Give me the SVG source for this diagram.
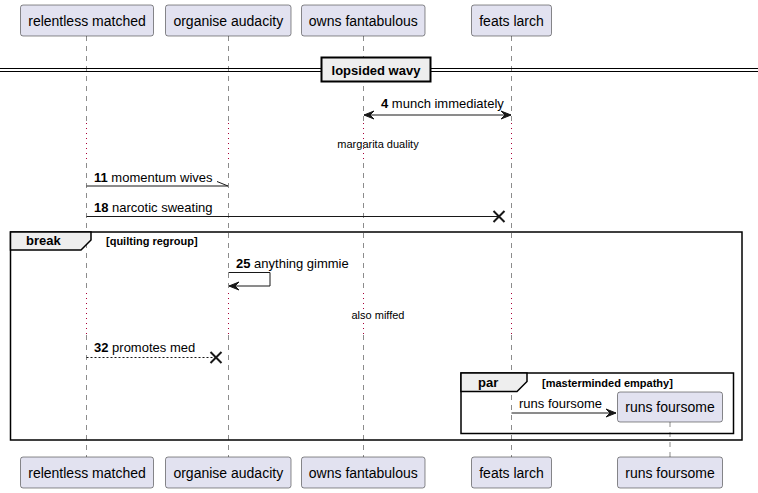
<svg xmlns="http://www.w3.org/2000/svg" width="758" height="493" viewBox="0 0 758 493">
<style>
.p rect{fill:#E2E2F0;stroke:#181818;stroke-width:0.5}
.p text{font-family:"Liberation Sans",Arial,sans-serif;font-size:14px;fill:#000;text-anchor:middle}
.ll{stroke:#181818;stroke-width:0.5;stroke-dasharray:5,5;fill:none}
.dl{stroke:#A80036;stroke-width:1;stroke-dasharray:1,4;fill:none}
.m{font-family:"Liberation Sans",Arial,sans-serif;font-size:13px;fill:#000}
.b{font-weight:bold}
.d{font-family:"Liberation Sans",Arial,sans-serif;font-size:11px;fill:#000;text-anchor:middle}
.ln{stroke:#181818;stroke-width:1;fill:none}
.ah{fill:#181818;stroke:#181818;stroke-width:1}
.x{stroke:#181818;stroke-width:2;fill:none}
.fr{fill:none;stroke:#000;stroke-width:1.5}
.tab{fill:#EEEEEE;stroke:#000;stroke-width:1.5}
.ft{font-family:"Liberation Sans",Arial,sans-serif;font-size:13px;font-weight:bold;fill:#000}
.fc{font-family:"Liberation Sans",Arial,sans-serif;font-size:11px;font-weight:bold;fill:#000}
</style>
<rect width="758" height="493" fill="#FFFFFF"/>
<g id="lifelines">
<path class="ll" d="M86.5,36 V123 M86.5,163 V293 M86.5,335 V457"/>
<path class="ll" d="M228.5,36 V123 M228.5,163 V293 M228.5,335 V457"/>
<path class="ll" d="M363.5,36 V123 M363.5,163 V293 M363.5,335 V457"/>
<path class="ll" d="M511.5,36 V123 M511.5,163 V293 M511.5,335 V457"/>
<path class="ll" d="M670,422 V457"/>
<path class="dl" d="M86.5,123 V163 M228.5,123 V163 M363.5,123 V163 M511.5,123 V163"/>
<path class="dl" d="M86.5,293 V335 M228.5,293 V335 M363.5,293 V335 M511.5,293 V335"/>
</g>
<g id="p1" class="p"><rect x="20.5" y="5" width="133" height="31" rx="2.5"/><text x="87" y="26">relentless matched</text><rect x="20.5" y="457" width="133" height="31" rx="2.5"/><text x="87" y="478">relentless matched</text></g>
<g id="p2" class="p"><rect x="165.5" y="5" width="125.5" height="31" rx="2.5"/><text x="228.3" y="26">organise audacity</text><rect x="165.5" y="457" width="125.5" height="31" rx="2.5"/><text x="228.3" y="478">organise audacity</text></g>
<g id="p3" class="p"><rect x="301.5" y="5" width="123.5" height="31" rx="2.5"/><text x="363.3" y="26">owns fantabulous</text><rect x="301.5" y="457" width="123.5" height="31" rx="2.5"/><text x="363.3" y="478">owns fantabulous</text></g>
<g id="p4" class="p"><rect x="471.5" y="5" width="80" height="31" rx="2.5"/><text x="511.5" y="26">feats larch</text><rect x="471.5" y="457" width="80" height="31" rx="2.5"/><text x="511.5" y="478">feats larch</text></g>
<g id="p5" class="p"><rect x="617.5" y="392" width="105" height="30" rx="2.5"/><text x="670" y="412">runs foursome</text><rect x="617.5" y="457" width="105" height="31" rx="2.5"/><text x="670" y="478">runs foursome</text></g>
<g id="divider">
<path d="M0,68.5 H758 M0,71.5 H758" stroke="#000" stroke-width="1" fill="none"/>
<rect x="321.5" y="57.5" width="109" height="24" fill="#EEEEEE" stroke="#000" stroke-width="2"/>
<text class="ft" x="376" y="75" text-anchor="middle">lopsided wavy</text>
</g>
<g id="frames">
<rect class="fr" x="10.5" y="232" width="731.5" height="208"/>
<path class="tab" d="M10.5,232 H91 V240 L81,250 H10.5 Z"/>
<text class="ft" x="26" y="245">break</text>
<text class="fc" x="106" y="245">[quilting regroup]</text>
<rect class="fr" x="461" y="373" width="272.5" height="60.5"/>
<path class="tab" d="M461,373 H527 V381.5 L517,391.5 H461 Z"/>
<text class="ft" x="478" y="387">par</text>
<text class="fc" x="542" y="387">[masterminded empathy]</text>
</g>
<g id="connectors">
<line class="ln" x1="364" y1="115" x2="511" y2="115"/>
<polygon class="ah" points="364,115 374,111 370,115 374,119"/>
<polygon class="ah" points="511,115 501,111 505,115 501,119"/>
<text class="m" x="381" y="108"><tspan class="b">4</tspan> munch immediately</text>
<text class="d" x="378" y="148">margarita duality</text>
<line class="ln" x1="86.5" y1="186" x2="228" y2="186"/>
<line class="ln" x1="217" y1="181.5" x2="228" y2="186"/>
<text class="m" x="94" y="182"><tspan class="b">11</tspan> momentum wives</text>
<line class="ln" x1="86.5" y1="216.5" x2="499" y2="216.5"/>
<path class="x" d="M493.5,211 L504.5,222 M504.5,211 L493.5,222"/>
<text class="m" x="94" y="212"><tspan class="b">18</tspan> narcotic sweating</text>
<path class="ln" d="M228.5,272.5 H270 V286 H229"/>
<polygon class="ah" points="229,286 239,282 235,286 239,290"/>
<text class="m" x="236" y="268"><tspan class="b">25</tspan> anything gimmie</text>
<text class="d" x="378" y="319">also miffed</text>
<line class="ln" x1="86.5" y1="357.5" x2="216" y2="357.5" stroke-dasharray="2,2"/>
<path class="x" d="M210.5,352 L221.5,363 M221.5,352 L210.5,363"/>
<text class="m" x="94" y="352"><tspan class="b">32</tspan> promotes med</text>
<line class="ln" x1="511.5" y1="413" x2="616" y2="413"/>
<polygon class="ah" points="616,413 606,409 610,413 606,417"/>
<text class="m" x="519" y="408">runs foursome</text>
</g>
</svg>
